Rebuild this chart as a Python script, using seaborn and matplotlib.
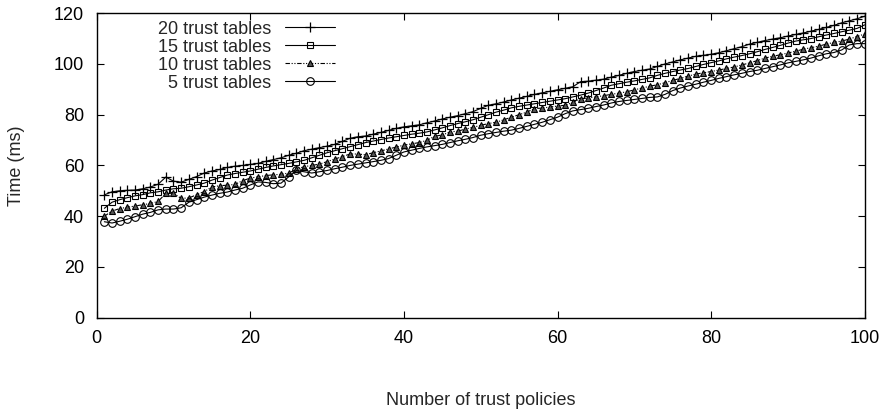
import matplotlib
matplotlib.use("Agg")
import matplotlib.pyplot as plt
import seaborn as sns
import numpy as np
import pandas as pd

policies = list(range(1, 101))

t20 = [48.4, 49.6, 50.0, 50.2, 50.3, 50.8, 51.5, 52.6, 55.4, 53.8,
       53.4, 54.5, 55.6, 57.0, 57.8, 58.4, 59.2, 59.7, 60.0, 60.4,
       60.8, 61.6, 62.3, 63.0, 64.0, 64.8, 65.8, 66.4, 67.0, 67.6,
       68.3, 69.5, 70.7, 71.3, 71.6, 72.3, 73.0, 73.8, 74.6, 75.2,
       75.6, 76.0, 76.8, 77.5, 78.3, 79.0, 79.6, 80.4, 81.2, 82.5,
       83.7, 84.3, 85.0, 85.8, 86.5, 87.2, 88.0, 88.6, 89.2, 89.8,
       90.4, 91.0, 93.0, 93.2, 93.6, 94.0, 94.8, 95.5, 96.3, 97.0,
       97.5, 98.0, 99.0, 100.0, 100.8, 101.6, 102.3, 103.0, 103.4, 103.8,
       104.4, 105.2, 106.0, 106.8, 107.8, 108.5, 109.2, 109.8, 110.3, 111.0,
       111.6, 112.2, 112.9, 113.6, 114.4, 115.2, 116.2, 117.0, 117.8, 118.8]

t15 = [43.1, 45.5, 46.5, 47.3, 48.0, 48.5, 49.2, 49.6, 50.3, 50.8,
       51.0, 51.6, 52.3, 53.0, 54.2, 55.2, 56.2, 56.8, 57.3, 57.8,
       58.5, 59.2, 59.8, 60.3, 60.8, 61.4, 62.0, 63.0, 64.0, 65.0,
       65.8, 66.6, 67.4, 68.2, 69.0, 69.6, 70.2, 70.8, 71.3, 71.8,
       72.3, 72.7, 73.2, 74.0, 74.8, 75.7, 76.5, 77.2, 78.0, 79.0,
       80.0, 81.0, 81.8, 82.7, 83.3, 83.8, 84.3, 84.8, 85.3, 85.8,
       86.3, 87.0, 87.7, 88.5, 89.5, 90.5, 91.6, 92.2, 92.8, 93.3,
       93.9, 94.5, 95.5, 96.3, 97.0, 97.6, 98.2, 99.0, 99.8, 100.5,
       101.2, 102.0, 102.7, 103.3, 104.0, 104.8, 105.7, 106.5, 107.3, 108.2,
       109.0, 109.5, 110.0, 110.7, 111.4, 112.0, 112.7, 113.3, 114.0, 115.4]

t10 = [40.0, 42.0, 43.0, 43.5, 44.0, 44.5, 45.0, 45.8, 49.0, 49.0,
       47.0, 47.2, 48.4, 49.7, 51.5, 52.0, 52.2, 52.5, 54.0, 55.0,
       55.5, 56.0, 56.3, 56.5, 57.0, 58.5, 59.5, 60.0, 60.5, 61.5,
       62.5, 63.5, 64.5, 64.5, 64.2, 65.0, 65.7, 66.5, 67.2, 68.0,
       68.5, 69.0, 69.9, 71.5, 72.0, 73.2, 73.5, 74.3, 75.0, 75.8,
       76.5, 77.0, 78.0, 79.0, 80.0, 81.0, 82.4, 82.6, 83.0, 83.4,
       83.7, 84.8, 86.3, 86.6, 87.0, 87.5, 88.0, 88.5, 89.0, 89.8,
       90.5, 91.2, 91.8, 92.6, 93.5, 94.3, 95.2, 96.0, 96.5, 97.0,
       97.6, 98.2, 98.8, 99.6, 100.4, 101.3, 102.3, 103.0, 103.6, 104.3,
       105.0, 105.8, 106.4, 107.0, 107.8, 108.5, 109.0, 109.8, 110.8, 111.8]

t5 = [37.8, 37.3, 38.0, 38.8, 39.8, 40.8, 41.5, 42.5, 42.8, 42.8,
      43.3, 45.5, 46.5, 47.5, 48.3, 49.0, 49.5, 50.3, 51.0, 52.3,
      53.5, 53.3, 52.8, 53.0, 55.5, 58.0, 57.5, 57.0, 57.5, 58.0,
      58.7, 59.3, 60.0, 60.5, 61.0, 61.5, 62.0, 62.7, 64.0, 65.3,
      66.0, 66.7, 67.3, 67.8, 68.3, 69.0, 69.7, 70.3, 71.0, 71.9,
      72.5, 73.0, 73.5, 73.9, 74.6, 75.4, 76.2, 77.0, 78.0, 79.0,
      80.4, 81.5, 82.0, 82.5, 83.2, 83.8, 84.6, 85.2, 85.6, 86.0,
      86.4, 86.8, 87.0, 88.0, 89.5, 90.5, 91.3, 92.0, 92.8, 93.5,
      94.3, 95.0, 95.7, 96.3, 97.0, 97.5, 98.2, 98.9, 99.6, 100.4,
      101.0, 101.6, 102.3, 103.2, 104.0, 104.5, 105.5, 107.5, 108.0, 108.0]

labels = ["20 trust tables", "15 trust tables", "10 trust tables", "5 trust tables"]
x_ticks = [0, 20, 40, 60, 80, 100]
y_ticks = [0, 20, 40, 60, 80, 100, 120]
x_label = "Number of trust policies"
y_label = "Time (ms)"

sns.set_style("ticks")
plt.rcParams["font.family"] = ["Liberation Sans", "DejaVu Sans"]

FS = 13

fig = plt.figure(figsize=(8.83, 4.12), dpi=100)
ax = fig.add_axes([0.1095, 0.229, 0.8698, 0.739])

series = [t20, t15, t10, t5]
styles = [
    dict(marker="+", markersize=7, markeredgewidth=0.9, linestyle="-"),
    dict(marker="s", markersize=5, markerfacecolor="none", markeredgewidth=0.8, linestyle="-"),
    dict(marker="^", markersize=4.5, markerfacecolor="#555555", markeredgewidth=0.8,
         dashes=(4, 1.5, 1, 1.5, 1, 1.5)),
    dict(marker="o", markersize=5.5, markerfacecolor="none", markeredgewidth=0.8, linestyle="-"),
]
for vals, lab, st in zip(series, labels, styles):
    df = pd.DataFrame({"x": policies, "y": vals})
    sns.lineplot(data=df, x="x", y="y", ax=ax, color="black", linewidth=0.8,
                 markeredgecolor="black", label=lab, **st)

ax.set_xlim(0, 100)
ax.set_ylim(0, 120)
ax.set_xticks(x_ticks)
ax.set_yticks(y_ticks)
ax.tick_params(direction="in", top=True, right=True, length=5, width=0.8,
               labelsize=FS, colors="black")
ax.tick_params(axis="x", pad=9)
ax.tick_params(axis="y", pad=9)
for s in ax.spines.values():
    s.set_linewidth(1.0)
    s.set_color("black")

ax.set_xlabel(x_label, fontsize=FS)
ax.set_ylabel(y_label, fontsize=FS)
ax.xaxis.set_label_coords(0.5, -0.245)
ax.yaxis.set_label_coords(-0.093, 0.5)

leg = ax.legend(loc="upper right", bbox_to_anchor=(0.310, 0.975), frameon=False,
                markerfirst=False, fontsize=FS, handlelength=2.75, handletextpad=0.75,
                labelspacing=0.05, borderaxespad=0, borderpad=0)

fig.savefig("out.png", dpi=100)
